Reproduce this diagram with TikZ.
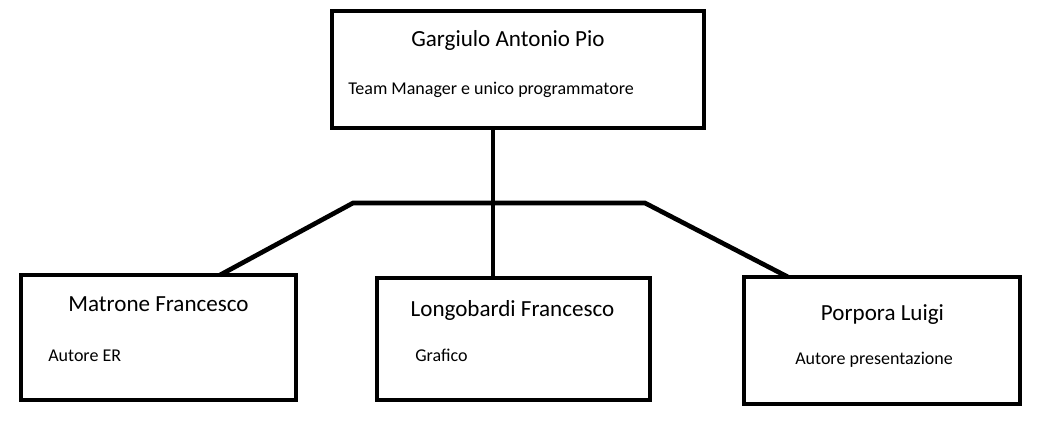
\documentclass[tikz,border=0pt]{standalone}
\usepackage{fontspec}
\setmainfont{Carlito}
\usetikzlibrary{positioning, calc}

\begin{document}
\begin{tikzpicture}[x=0.75pt, y=-0.75pt,
  membro/.style={draw, line width=3.5pt, inner sep=0pt, outer sep=0pt},
  nome/.style={anchor=base, inner sep=0pt, font=\fontsize{17.3}{20}\selectfont},
  ruolo/.style={anchor=base west, inner sep=0pt, font=\fontsize{13.5}{16}\selectfont},
  ramo/.style={line width=3.5pt}]
\useasboundingbox (0,0) rectangle (1043,430);
% riquadri
\node[membro, minimum width=279pt, minimum height=87.75pt] (TM) at (518,69.5) {};
\node[membro, minimum width=206.25pt, minimum height=93.75pt] (MF) at (158.5,337.5) {};
\node[membro, minimum width=204.75pt, minimum height=91.5pt] (LF) at (513.5,339) {};
\node[membro, minimum width=207pt, minimum height=95.25pt] (PL) at (882,340.5) {};
% testi
\node[nome] (TMnome) at (508,46) {Gargiulo Antonio Pio};
\node[ruolo] (TMruolo) at (348,94) {Team Manager e unico programmatore};
\node[nome] (MFnome) at (158.5,311) {Matrone Francesco};
\node[ruolo] (MFruolo) at (48,361) {Autore ER};
\node[nome] (LFnome) at (512.5,316) {Longobardi Francesco};
\node[ruolo] (LFruolo) at (415,361) {Grafico};
\node[nome] (PLnome) at (882.5,320) {Porpora Luigi};
\node[ruolo] (PLruolo) at (795,364) {Autore presentazione};
% collegamenti
\coordinate (hub) at (493,203);
\coordinate (hl) at (353,203);
\coordinate (hr) at (645,203);
\coordinate (ml) at (220,0);
\coordinate (pr) at (788,0);
\draw[ramo] (hub |- TM.south) -- (hub |- LF.north);
\draw[ramo] (MF.north -| ml) -- (hl) -- (hr) -- (PL.north -| pr);
\end{tikzpicture}
\end{document}
